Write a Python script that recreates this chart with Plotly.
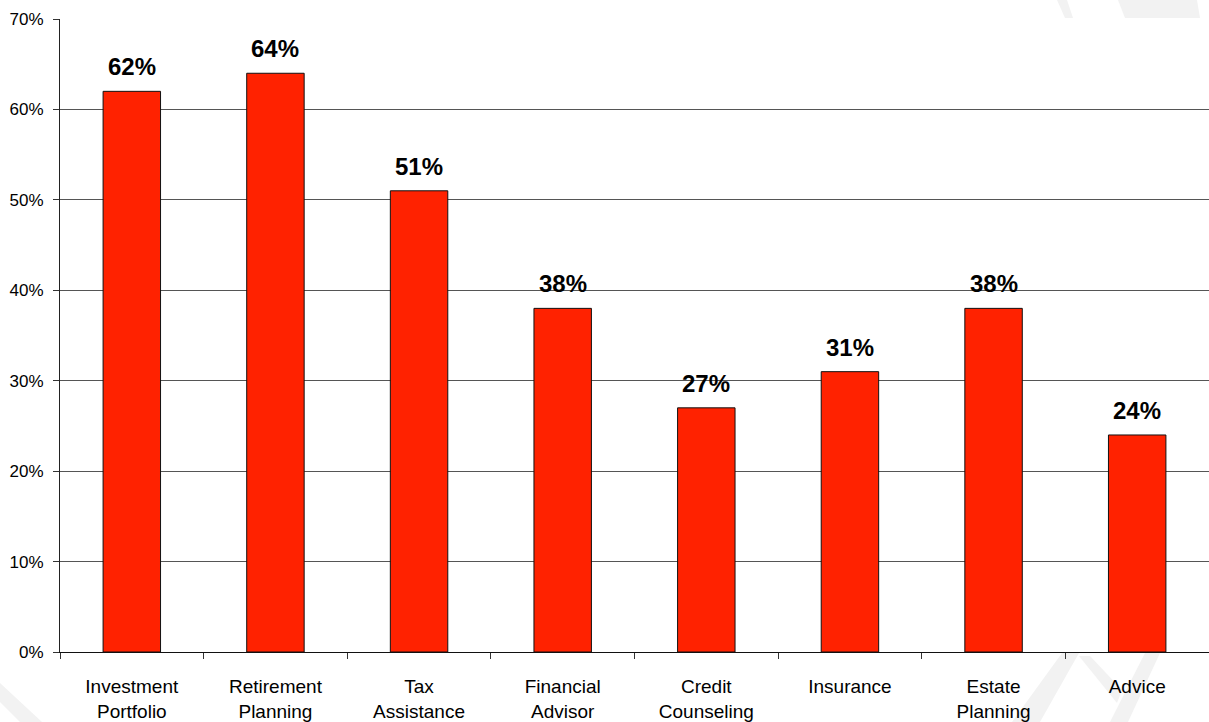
import plotly.graph_objects as go

categories = ["Investment<br>Portfolio", "Retirement<br>Planning", "Tax<br>Assistance",
              "Financial<br>Advisor", "Credit<br>Counseling", "Insurance",
              "Estate<br>Planning", "Advice"]
values = [62, 64, 51, 38, 27, 31, 38, 24]
y_ticks = [0, 10, 20, 30, 40, 50, 60, 70]
y_tick_labels = [f"{v}%" for v in y_ticks]

W, H = 1209, 722
ML, MR, MT, MB = 60, 0, 19, 70
PW, PH = W - ML - MR, H - MT - MB

fig = go.Figure()
fig.add_trace(go.Bar(
    x=categories,
    y=values,
    marker=dict(color="#FF2200", line=dict(color="#111111", width=1)),
    width=0.4,
    hoverinfo="skip",
))

# value labels above each bar
for cat, v in zip(categories, values):
    fig.add_annotation(
        x=cat, y=v, text=f"<b>{v}%</b>", showarrow=False,
        yanchor="bottom", yshift=9,
        font=dict(family="Liberation Sans, Arial", size=24, color="#000000"),
    )


def px_to_paper(x, y):
    return (x - ML) / PW, (H - MB - y) / PH


# faint decorative background bands (pixel outlines on the page)
band = "#f2f2f2"
polys = [
    [(0, 683), (42, 722), (20, 722), (0, 702)],
    [(1057, 0), (1067, 0), (1073, 18), (1065, 18)],
    [(1118, 0), (1197, 0), (1200, 18), (1125, 18)],
    [(1062, 653), (1079, 653), (1040, 722), (1012, 722)],
    [(1079, 656), (1090, 656), (1122, 690), (1117, 703)],
    [(1145, 653), (1160, 653), (1128, 722), (1110, 722)],
]
for p in polys:
    pts = [px_to_paper(x, y) for x, y in p]
    path = "M " + " L ".join(f"{x:.5f},{y:.5f}" for x, y in pts) + " Z"
    fig.add_shape(type="path", path=path, xref="paper", yref="paper",
                  fillcolor=band, line=dict(width=0), layer="below")

fig.update_layout(
    width=W, height=H,
    margin=dict(l=ML, r=MR, t=MT, b=MB),
    paper_bgcolor="white", plot_bgcolor="rgba(0,0,0,0)",
    showlegend=False,
    font=dict(family="Liberation Sans, Arial", color="#000000"),
)
fig.update_xaxes(
    tickson="boundaries", ticks="outside", ticklen=6, tickcolor="#333333",
    showgrid=False, showline=True, linecolor="#111111", linewidth=1,
    tickfont=dict(size=19), ticklabelstandoff=17,
    range=[-0.5, 7.5],
)
fig.update_yaxes(
    range=[0, 70], tickvals=y_ticks, ticktext=y_tick_labels,
    ticks="outside", ticklen=6, tickcolor="#333333",
    showgrid=True, gridcolor="#555555", gridwidth=1,
    showline=True, linecolor="#222222", linewidth=1,
    tickfont=dict(size=17), zeroline=False, ticklabelstandoff=6,
)

fig.write_html("out.html")
